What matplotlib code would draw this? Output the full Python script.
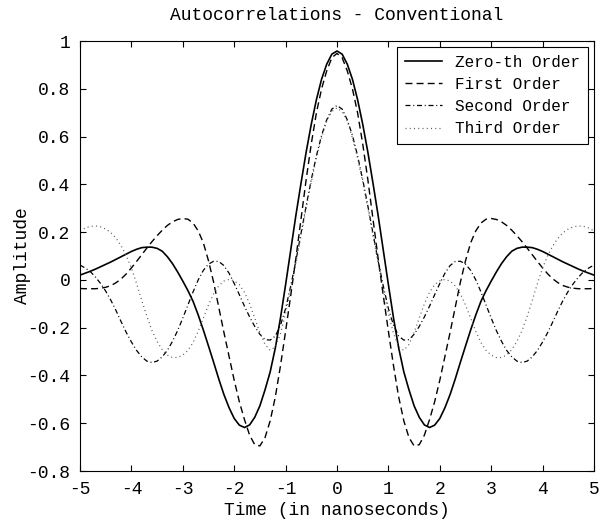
import numpy as np
import matplotlib
matplotlib.use("Agg")
import matplotlib.pyplot as plt

t_half = np.linspace(0, 5, 51)

zeroth = [0.958, 0.945, 0.903, 0.840, 0.755, 0.652, 0.535, 0.405, 0.27, 0.125,
          -0.02, -0.16, -0.285, -0.385, -0.46, -0.527, -0.575, -0.607, -0.618, -0.608,
          -0.58, -0.535, -0.48, -0.415, -0.345, -0.277, -0.21, -0.147, -0.09, -0.045,
          -0.005, 0.033, 0.068, 0.097, 0.12, 0.132, 0.137, 0.137, 0.135, 0.128,
          0.119, 0.108, 0.097, 0.086, 0.075, 0.065, 0.055, 0.045, 0.036, 0.028,
          0.02]
first = [0.948, 0.93, 0.875, 0.80, 0.70, 0.57, 0.42, 0.255, 0.09, -0.065,
         -0.215, -0.36, -0.49, -0.59, -0.66, -0.695, -0.69, -0.65, -0.585, -0.51,
         -0.42, -0.32, -0.22, -0.115, -0.01, 0.08, 0.155, 0.205, 0.238, 0.254,
         0.257, 0.253, 0.243, 0.228, 0.208, 0.185, 0.16, 0.133, 0.105, 0.077,
         0.05, 0.025, 0.004, -0.012, -0.024, -0.031, -0.035, -0.037, -0.037, -0.037,
         -0.036]
second = [0.73, 0.715, 0.67, 0.605, 0.52, 0.42, 0.31, 0.195, 0.08, -0.025,
          -0.12, -0.19, -0.235, -0.252, -0.25, -0.228, -0.195, -0.155, -0.11, -0.062,
          -0.015, 0.028, 0.06, 0.077, 0.078, 0.066, 0.04, 0.0, -0.05, -0.105,
          -0.16, -0.212, -0.257, -0.295, -0.322, -0.34, -0.346, -0.34, -0.322, -0.295,
          -0.26, -0.22, -0.175, -0.128, -0.085, -0.047, -0.015, 0.012, 0.035, 0.05,
          0.062]
third = [0.72, 0.705, 0.665, 0.595, 0.51, 0.41, 0.30, 0.185, 0.07, -0.04,
         -0.14, -0.225, -0.28, -0.295, -0.27, -0.22, -0.16, -0.10, -0.052, -0.02,
         -0.004, 0.002, -0.005, -0.025, -0.058, -0.105, -0.16, -0.215, -0.262, -0.295,
         -0.315, -0.325, -0.325, -0.315, -0.292, -0.258, -0.212, -0.152, -0.085, -0.015,
         0.05, 0.102, 0.143, 0.175, 0.198, 0.213, 0.222, 0.226, 0.224, 0.217,
         0.205]

labels = ["Zero-th Order", "First Order", "Second Order", "Third Order"]
xticks = [-5, -4, -3, -2, -1, 0, 1, 2, 3, 4, 5]
yticks = [-0.8, -0.6, -0.4, -0.2, 0, 0.2, 0.4, 0.6, 0.8, 1]
ytick_labels = ["-0.8", "-0.6", "-0.4", "-0.2", "0", "0.2", "0.4", "0.6", "0.8", "1"]


def mirror(vals):
    vals = np.asarray(vals)
    return np.concatenate([vals[:0:-1], vals])


t = np.concatenate([-t_half[:0:-1], t_half])

plt.rcParams['font.family'] = ['Liberation Mono', 'DejaVu Sans Mono']

fig = plt.figure(figsize=(6.03, 5.28), dpi=100, facecolor='w')
ax = fig.add_axes([80/603, 1-471/528, 514/603, 430/528])

ax.plot(t, mirror(zeroth), color='k', lw=1.2, label=labels[0])
ax.plot(t, mirror(first), color='k', lw=1.0, dashes=(5, 3), label=labels[1])
ax.plot(t, mirror(second), color='k', lw=0.9, dashes=(4, 2.2, 0.8, 2.2), label=labels[2])
ax.plot(t, mirror(third), color='0.35', lw=0.9, dashes=(0.8, 2.6), label=labels[3])

ax.set_xlim(-5, 5)
ax.set_ylim(-0.8, 1)
ax.set_xticks(xticks)
ax.set_xticklabels([str(v) for v in xticks])
ax.set_yticks(yticks)
ax.set_yticklabels(ytick_labels)
ax.tick_params(direction='in', length=4, width=0.8, top=True, right=True,
               labelsize=13, pad=7)
for spine in ('top', 'right', 'bottom', 'left'):
    ax.spines[spine].set_linewidth(0.8)

ax.set_xlabel("Time (in nanoseconds)", fontsize=13)
ax.xaxis.set_label_coords(0.5, -0.072)
ax.set_ylabel("Amplitude", fontsize=13)
ax.yaxis.set_label_coords(-0.095, 0.5)
fig.text(337/603, 1-15/528, "Autocorrelations - Conventional", fontsize=13,
         ha='center', va='center')

legend = ax.legend(loc='upper right', bbox_to_anchor=(0.988, 0.987),
                   borderaxespad=0, fontsize=11.5, fancybox=False,
                   edgecolor='k', framealpha=1, handlelength=2.3,
                   handletextpad=0.8, labelspacing=0.45, borderpad=0.5)
legend.get_frame().set_linewidth(0.8)

fig.savefig("out.png", dpi=100)
